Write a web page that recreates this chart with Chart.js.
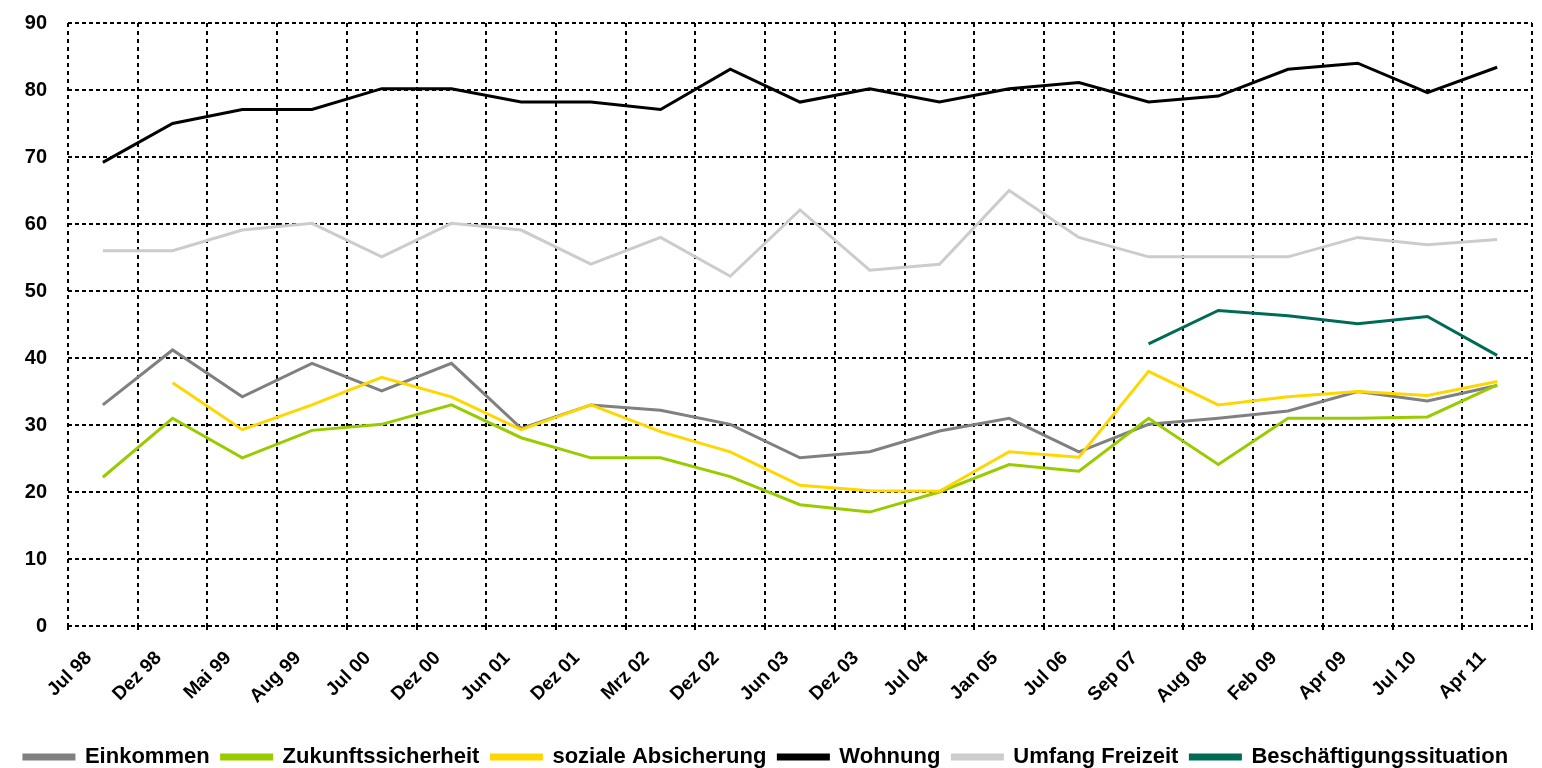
<!DOCTYPE html>
<html>
<head>
<meta charset="utf-8">
<script src="https://cdn.jsdelivr.net/npm/chart.js@4/dist/chart.umd.min.js"></script>
<style>
html,body{margin:0;padding:0;background:#fff;}
#wrap{width:1542px;height:768px;position:relative;}
</style>
</head>
<body>
<div id="wrap"><canvas id="c"></canvas></div>
<script>
const categories = ["Jul 98","Dez 98","Mai 99","Aug 99","Jul 00","Dez 00","Jun 01","Dez 01","Mrz 02","Dez 02","Jun 03","Dez 03","Jul 04","Jan 05","Jul 06","Sep 07","Aug 08","Feb 09","Apr 09","Jul 10","Apr 11"];
const einkommen = [33,41.2,34.2,39.2,35.1,39.2,29.5,33,32.2,30.1,25.1,26,29.1,31,26,30.1,31,32.1,35,33.6,35.9];
const zukunftssicherheit = [22.2,31,25.1,29.2,30.1,33,28.1,25.1,25.1,22.3,18.1,17,20,24.1,23.1,31,24.1,31,31,31.2,36];
const sozialeAbsicherung = [null,36.3,29.3,33,37.1,34.2,29.3,33,29,26,21,20.2,20.1,26,25.2,38,33,34.2,35,34.4,36.5];
const wohnung = [69.2,75,77.1,77.1,80.2,80.2,78.2,78.2,77.1,83.1,78.2,80.2,78.2,80.2,81.1,78.2,79.1,83.1,84,79.6,83.4];
const umfangFreizeit = [56,56,59.1,60.1,55.1,60.1,59.1,54,58,52.2,62.1,53.1,54,65,58,55.1,55.1,55.1,58,56.9,57.7];
const beschaeftigung = [null,null,null,null,null,null,null,null,null,null,null,null,null,null,null,42.1,47.1,46.3,45.1,46.2,40.4];
const yTicks = [0,10,20,30,40,50,60,70,80,90];

const seriesNames = ["Einkommen","Zukunftssicherheit","soziale Absicherung","Wohnung","Umfang Freizeit","Beschäftigungssituation"];
const seriesData = [einkommen,zukunftssicherheit,sozialeAbsicherung,wohnung,umfangFreizeit,beschaeftigung];
const seriesColors = ["#808080","#99CC00","#FFD700","#000000","#CCCCCC","#006B54"];

const datasets = seriesNames.map((n,i)=>({
  label:n,
  data:seriesData[i],
  borderColor:seriesColors[i],
  backgroundColor:seriesColors[i],
  borderWidth:3,
  pointRadius:0,
  pointHoverRadius:0,
  tension:0,
  spanGaps:false,
  order:seriesNames.length-i
}));

const legendShift = {
  id:'legendShift',
  afterLayout(chart){
    const l = chart.legend;
    if(!l) return;
    const dy = 734 - l.top;
    l.top += dy; l.bottom += dy;
  }
};

const FONT = "'Liberation Sans', Arial, sans-serif";
new Chart(document.getElementById('c'),{
  type:'line',
  data:{labels:categories,datasets},
  plugins:[legendShift],
  options:{
    responsive:true,
    maintainAspectRatio:false,
    animation:false,
    layout:{padding:{top:23,right:10,left:0,bottom:0}},
    plugins:{
      tooltip:{enabled:false},
      legend:{
        position:'bottom',
        labels:{
          sort:(a,b)=>a.datasetIndex-b.datasetIndex,
          boxWidth:50,
          boxHeight:4,
          padding:12,
          color:'#000',
          font:{family:FONT,size:22,weight:'bold'}
        }
      }
    },
    scales:{
      x:{
        offset:true,
        grid:{offset:true,color:'#000',lineWidth:2,drawTicks:true,tickLength:4,tickColor:'#000'},
        border:{display:false,dash:[4,4]},
        ticks:{color:'#000',maxRotation:45,minRotation:45,autoSkip:false,padding:17,labelOffset:-14,font:{family:FONT,size:19,weight:'bold'}},
        afterFit:(s)=>{s.height=98;}
      },
      y:{
        min:0,max:90,
        afterBuildTicks:(s)=>{s.ticks=yTicks.map(v=>({value:v}));},
        grid:{color:'#000',lineWidth:2,drawTicks:false},
        border:{display:false,dash:[4,3]},
        ticks:{color:'#000',padding:21,font:{family:FONT,size:20,weight:'bold'}},
        afterFit:(s)=>{s.width=68;s.paddingTop=0;s.paddingBottom=0;}
      }
    }
  }
});
</script>
</body>
</html>
